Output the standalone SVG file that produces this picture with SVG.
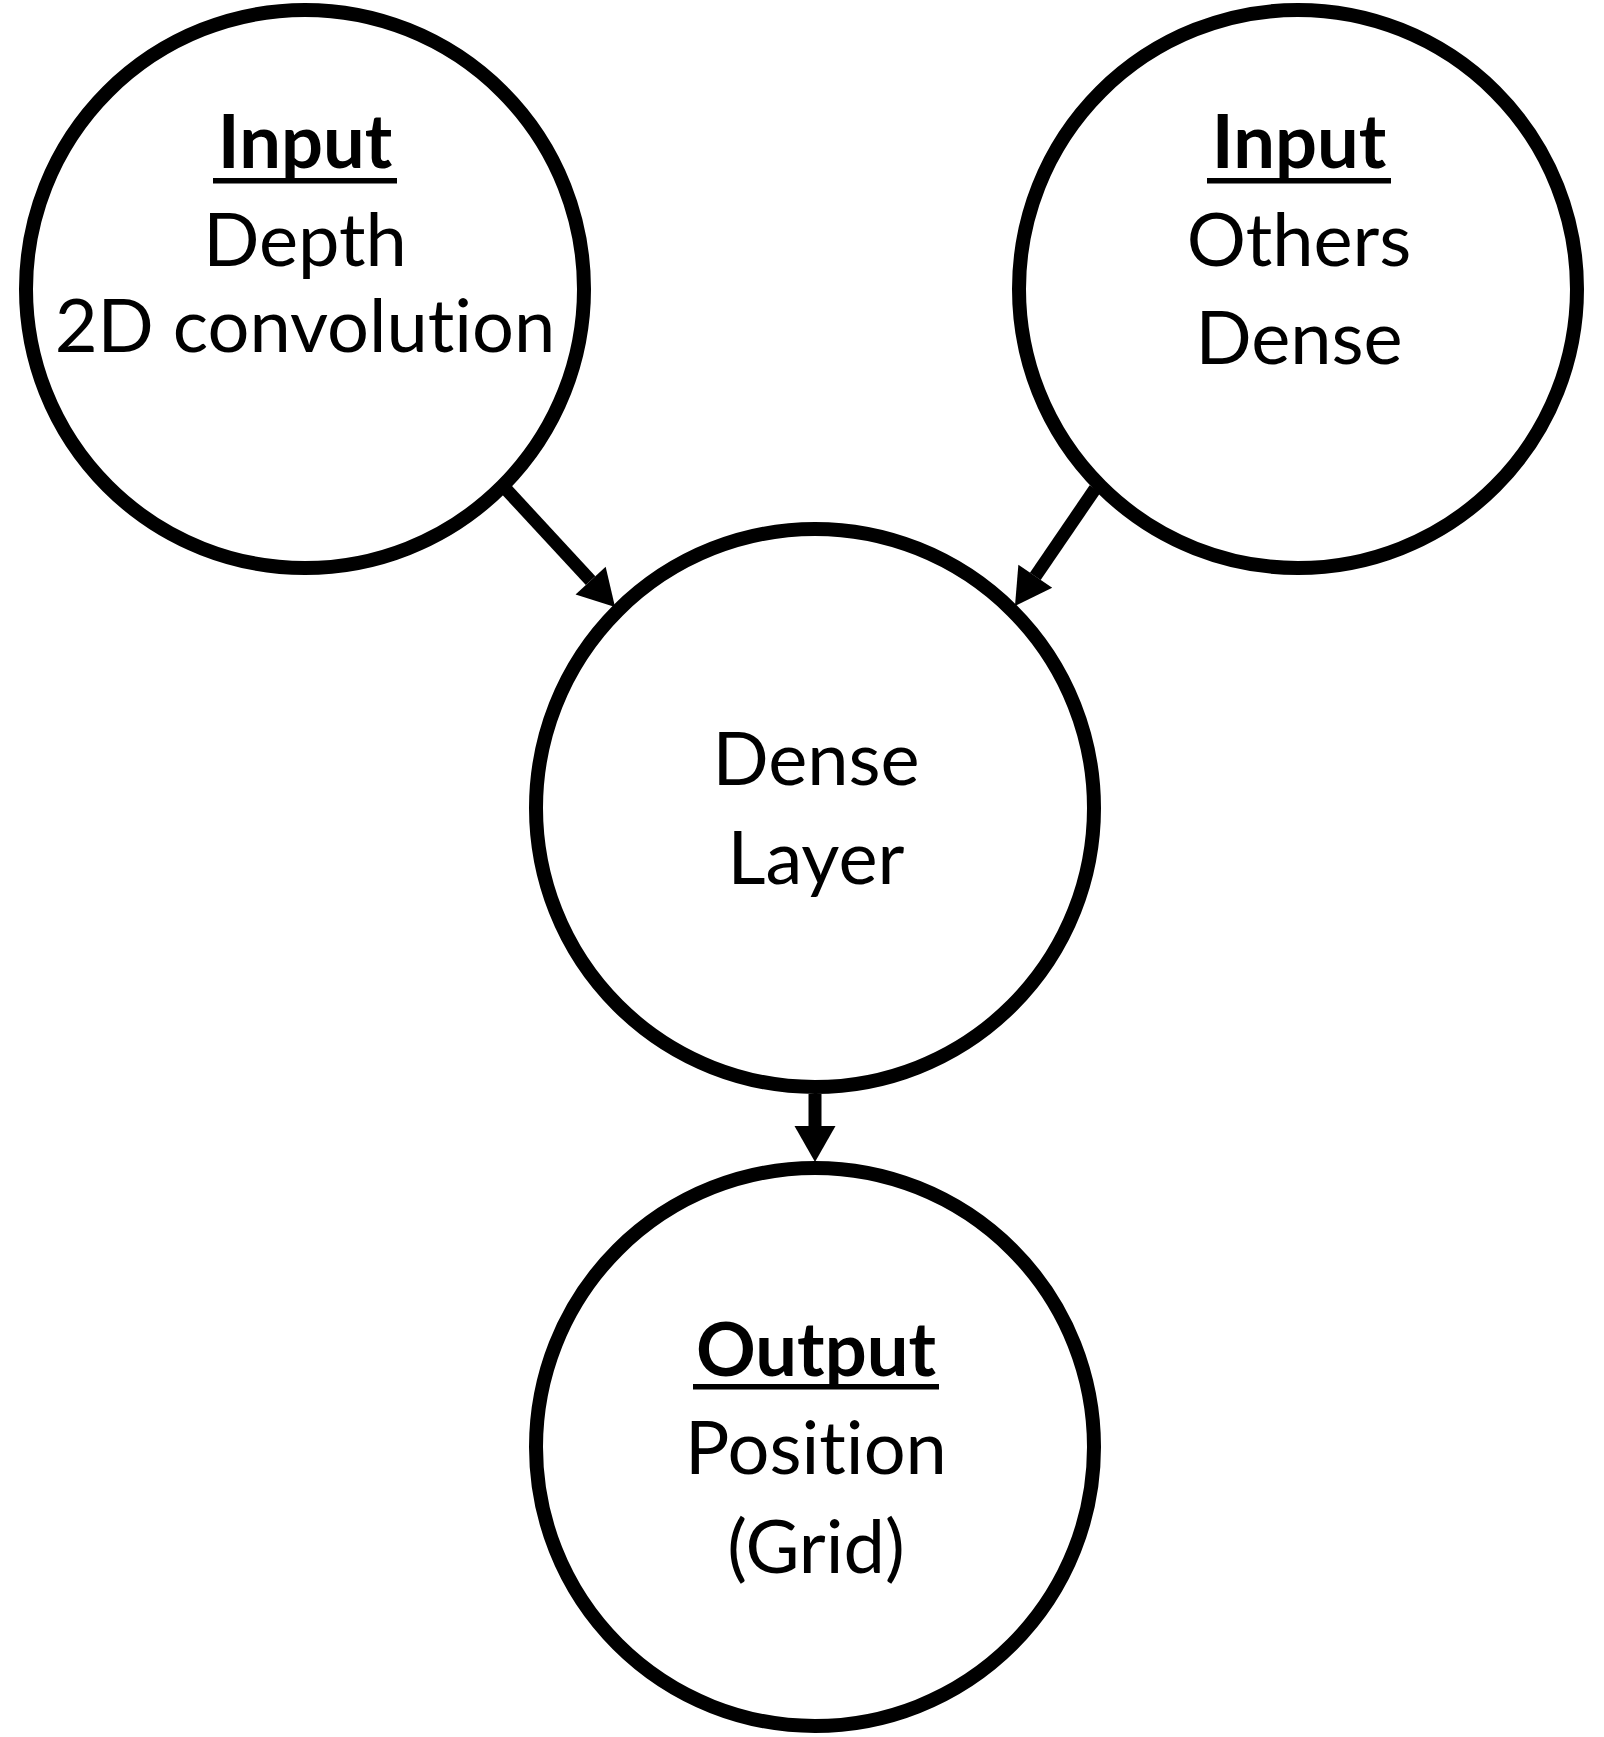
<svg xmlns="http://www.w3.org/2000/svg" width="1604" height="1737" viewBox="0 0 1604 1737">
<style>
.node{fill:#fff;stroke:#000;stroke-width:14}
.t{font-family:Lato,"Liberation Sans",sans-serif;font-size:74px;fill:#000;text-anchor:middle;font-variant-ligatures:none;font-feature-settings:"liga" 0,"clig" 0}
.h{font-weight:bold}
.ul{fill:#000}
.edge{stroke:#000;stroke-width:13;fill:none;marker-end:url(#ah)}
</style>
<defs>
<marker id="ah" markerUnits="userSpaceOnUse" markerWidth="40" markerHeight="44" refX="0" refY="20.5" orient="auto" viewBox="0 0 40 44" overflow="visible">
<path d="M0,0 L36,20.5 L0,41 z" fill="#000"/>
</marker>
</defs>
<rect width="1604" height="1737" fill="#fff"/>
<g id="connectors">
<line class="edge" x1="504" y1="487" x2="590.6" y2="580.6"/>
<line class="edge" x1="1095" y1="489" x2="1035.3" y2="576.3"/>
<line class="edge" x1="815" y1="1094" x2="815" y2="1126"/>
</g>
<g id="input-depth">
<circle class="node" cx="305" cy="289" r="279"/>
<text class="t h" x="305" y="168">Input</text>
<rect class="ul" x="213" y="178" width="184" height="5.5"/>
<text class="t" x="305" y="266">Depth</text>
<text class="t" x="305" y="352">2D convolution</text>
</g>
<g id="input-others">
<circle class="node" cx="1298" cy="289" r="279"/>
<text class="t h" x="1299" y="168">Input</text>
<rect class="ul" x="1207" y="178" width="184" height="5.5"/>
<text class="t" x="1299" y="266">Others</text>
<text class="t" x="1299" y="364">Dense</text>
</g>
<g id="dense-layer">
<circle class="node" cx="815" cy="808" r="279"/>
<text class="t" x="816" y="785">Dense</text>
<text class="t" x="816" y="884">Layer</text>
</g>
<g id="output-position">
<circle class="node" cx="815" cy="1447" r="279"/>
<text class="t h" x="816" y="1376">Output</text>
<rect class="ul" x="693" y="1384" width="246" height="5.5"/>
<text class="t" x="816" y="1474">Position</text>
<text class="t" x="816" y="1573">(Grid)</text>
</g>
</svg>
